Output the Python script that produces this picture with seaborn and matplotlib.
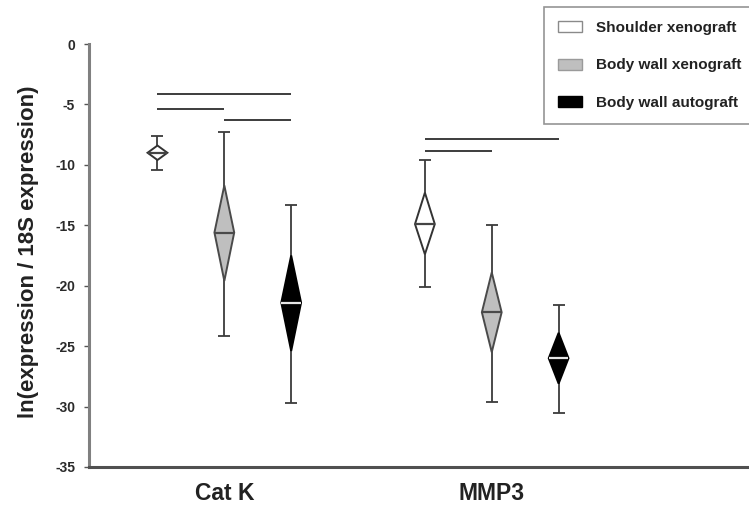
import numpy as np
import pandas as pd
import matplotlib
matplotlib.use("Agg")
import matplotlib.pyplot as plt
import seaborn as sns
from matplotlib.patches import Patch, Polygon

# ---------------- data ----------------
genes = ["Cat K", "MMP3"]
groups = ["Shoulder xenograft", "Body wall xenograft", "Body wall autograft"]

mean_catk = [-9.0, -15.6, -21.4]
mean_mmp3 = [-14.9, -22.2, -26.0]
ci_hi_catk = [-8.4, -11.7, -17.5]
ci_hi_mmp3 = [-12.3, -18.9, -23.9]
ci_lo_catk = [-9.6, -19.6, -25.4]
ci_lo_mmp3 = [-17.4, -25.5, -28.1]
max_catk = [-7.6, -7.3, -13.3]
max_mmp3 = [-9.6, -15.0, -21.6]
min_catk = [-10.4, -24.2, -29.7]
min_mmp3 = [-20.1, -29.6, -30.5]

# significance bars
sig_gene = ["Cat K", "Cat K", "Cat K", "MMP3", "MMP3"]
sig_from = ["Shoulder xenograft", "Shoulder xenograft", "Body wall xenograft",
            "Shoulder xenograft", "Shoulder xenograft"]
sig_to = ["Body wall autograft", "Body wall xenograft", "Body wall autograft",
          "Body wall autograft", "Body wall xenograft"]
sig_y = [-4.1, -5.4, -6.3, -7.9, -8.85]

y_ticks = [0, -5, -10, -15, -20, -25, -30, -35]
y_label = "ln(expression / 18S expression)"

# ---------------- styles ----------------
face_colors = {"Shoulder xenograft": "#ffffff", "Body wall xenograft": "#bfbfbf",
               "Body wall autograft": "#000000"}
edge_colors = {"Shoulder xenograft": "#333333", "Body wall xenograft": "#4a4a4a",
               "Body wall autograft": "#000000"}
mean_colors = {"Shoulder xenograft": "#444444", "Body wall xenograft": "#4a4a4a",
               "Body wall autograft": "#e6e6e6"}
legend_edges = {"Shoulder xenograft": "#8a8a8a", "Body wall xenograft": "#9a9a9a",
                "Body wall autograft": "#000000"}
hue_offset = 0.25
half_w = 0.037

df = pd.DataFrame({
    "gene": np.repeat(genes, len(groups)),
    "group": groups * len(genes),
    "mean": mean_catk + mean_mmp3,
    "ci_hi": ci_hi_catk + ci_hi_mmp3,
    "ci_lo": ci_lo_catk + ci_lo_mmp3,
    "vmax": max_catk + max_mmp3,
    "vmin": min_catk + min_mmp3,
})
df["x"] = df["gene"].map({g: i for i, g in enumerate(genes)}) + \
    (df["group"].map({g: i for i, g in enumerate(groups)}) - 1) * hue_offset

sns.set_theme(style="ticks")
plt.rcParams["font.family"] = ["Liberation Sans", "DejaVu Sans"]
plt.rcParams["axes.unicode_minus"] = False

W, H = 749, 512
fig = plt.figure(figsize=(W / 100, H / 100), dpi=100)
left_px, right_px, top_px, bot_px = 89, 760, 44, 467
ax = fig.add_axes([left_px / W, 1 - bot_px / H, (right_px - left_px) / W, (bot_px - top_px) / H])

# whiskers (range)
for grp in groups:
    d = df[df["group"] == grp]
    ax.errorbar(d["x"], d["mean"], yerr=[d["mean"] - d["vmin"], d["vmax"] - d["mean"]],
                fmt="none", ecolor="#3c3c3c", elinewidth=1.3, capsize=4, capthick=1.3, zorder=2)

# diamonds (mean and CI)
for _, r in df.iterrows():
    verts = [(r["x"] - half_w, r["mean"]), (r["x"], r["ci_hi"]),
             (r["x"] + half_w, r["mean"]), (r["x"], r["ci_lo"])]
    ax.add_patch(Polygon(verts, closed=True, facecolor=face_colors[r["group"]],
                         edgecolor=edge_colors[r["group"]], linewidth=1.4, zorder=3))

# mean lines
sns.scatterplot(data=df, x="x", y="mean", hue="group", palette=mean_colors,
                marker="_", s=200, linewidth=1.6, legend=False, ax=ax, zorder=4)

# significance bars
gene_idx = {g: i for i, g in enumerate(genes)}
grp_idx = {g: i for i, g in enumerate(groups)}
for g, a, b, y in zip(sig_gene, sig_from, sig_to, sig_y):
    x0 = gene_idx[g] + (grp_idx[a] - 1) * hue_offset
    x1 = gene_idx[g] + (grp_idx[b] - 1) * hue_offset
    ax.hlines(y, x0, x1, color="#3c3c3c", linewidth=1.4, zorder=2)

# axes
ax.set_xlim(-0.506, 2.003)
ax.set_ylim(-35, 0)
ax.set_yticks(y_ticks)
ax.set_yticklabels([str(t) for t in y_ticks], fontsize=10, fontweight="bold", color="#2a2a2a")
ax.set_xticks(range(len(genes)))
ax.set_xticklabels(genes, fontsize=16.5, fontweight="bold", color="#222222")
ax.tick_params(axis="x", length=0, pad=11)
ax.tick_params(axis="y", length=3.5, width=1, color="#555555", pad=6.5)
ax.set_xlabel("")
ax.set_ylabel(y_label, fontsize=16, fontweight="bold", color="#222222")
ax.yaxis.set_label_coords(-0.075, 0.51)
for s in ["top", "right"]:
    ax.spines[s].set_visible(False)
ax.spines["left"].set_color("#808080")
ax.spines["left"].set_linewidth(2.2)
ax.spines["bottom"].set_color("#505050")
ax.spines["bottom"].set_linewidth(2.2)
ax.set_facecolor("white")
fig.patch.set_facecolor("white")

# legend
handles = [Patch(facecolor=face_colors[g], edgecolor=legend_edges[g], linewidth=1.0) for g in groups]
leg = fig.legend(handles, groups, loc="upper left", bbox_to_anchor=(544 / W, 1 - 7 / H),
                 bbox_transform=fig.transFigure, frameon=True, fancybox=False,
                 prop={"size": 11, "weight": "bold"}, handlelength=1.6, handleheight=0.75,
                 handletextpad=0.9, labelspacing=1.55, borderpad=0.9, borderaxespad=0)
leg.get_frame().set_edgecolor("#7a7a7a")
leg.get_frame().set_linewidth(1.2)
for t in leg.get_texts():
    t.set_color("#222222")

fig.savefig("out.png", dpi=100, facecolor="white")
